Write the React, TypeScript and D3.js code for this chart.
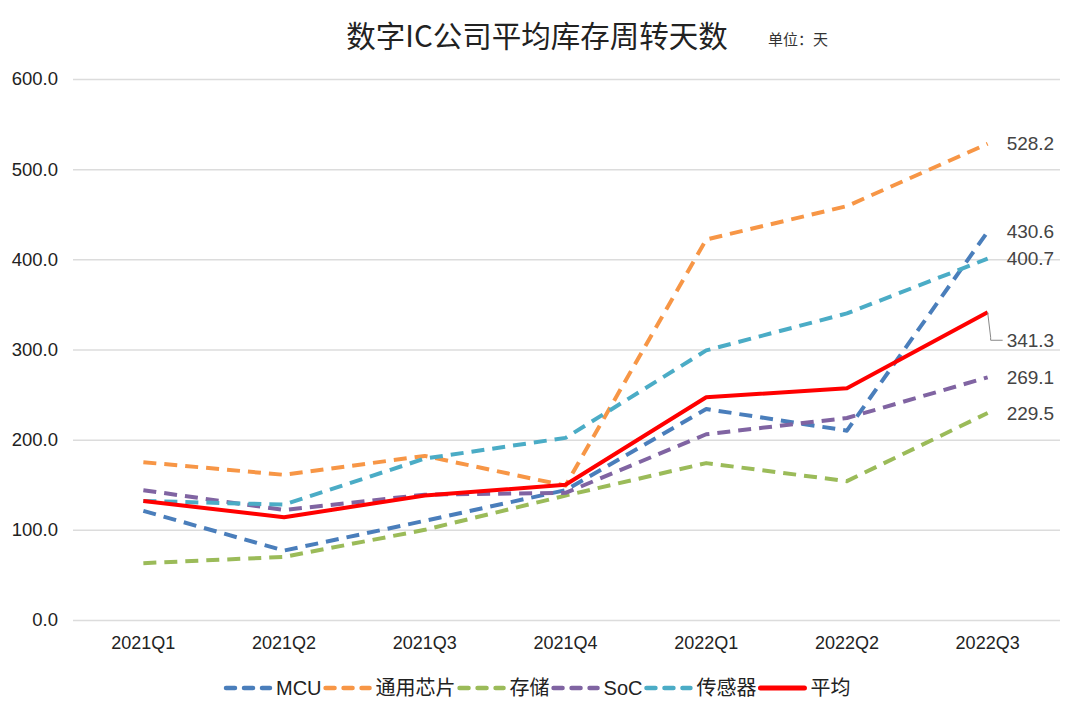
import * as d3 from "d3";
import { useEffect, useRef } from "react";

const categories = ["2021Q1", "2021Q2", "2021Q3", "2021Q4", "2022Q1", "2022Q2", "2022Q3"];
const seriesNames = ["MCU", "通用芯片", "存储", "SoC", "传感器", "平均"];
const mcu = [121, 77, 110, 144, 234, 210, 430.6];
const generalChip = [175, 161, 182, 149, 422, 459, 528.2];
const storage = [63, 70, 100, 138, 174, 154, 229.5];
const soc = [144, 122, 139, 141, 206, 224, 269.1];
const sensor = [132, 128, 179, 202, 299, 340, 400.7];
const average = [132, 114, 138, 150, 247, 257, 341.3];
const yTicks = [0, 100, 200, 300, 400, 500, 600];

const colors = ["#4a7ebb", "#f79646", "#9bbb59", "#8064a2", "#4bacc6", "#ff0000"];

export default function App() {
  const width = 1080;
  const height = 717;
  const marginTop = 79;
  const marginBottom = 97;
  const marginLeft = 73;
  const marginRight = 22;

  const svgRef = useRef<SVGSVGElement>(null);

  useEffect(() => {
    const svg = d3.select(svgRef.current);
    svg.selectAll("*").remove();

    const allSeries = [mcu, generalChip, storage, soc, sensor, average];

    const x = d3.scaleBand<string>(categories, [marginLeft, width - marginRight]);
    const y = d3.scaleLinear([0, 600], [height - marginBottom, marginTop]);
    const cx = (c: string) => (x(c) ?? 0) + x.bandwidth() / 2;

    // title
    svg.append("text")
      .attr("x", 537)
      .attr("y", 47)
      .attr("text-anchor", "middle")
      .attr("font-family", "'Noto Sans CJK SC', sans-serif")
      .attr("font-size", 29.5)
      .attr("fill", "#222")
      .text("数字IC公司平均库存周转天数");

    svg.append("text")
      .attr("x", 768)
      .attr("y", 45)
      .attr("font-family", "'Noto Sans CJK SC', sans-serif")
      .attr("font-size", 15)
      .attr("fill", "#333")
      .text("单位：天");

    // gridlines + y labels
    const yAxis = d3.axisLeft(y)
      .tickValues(yTicks)
      .tickSize(-(width - marginLeft - marginRight + 2))
      .tickPadding(15)
      .tickFormat(d => d3.format(".1f")(d as number));

    const gy = svg.append("g")
      .attr("transform", `translate(${marginLeft}, 0)`)
      .call(yAxis);
    gy.select(".domain").remove();
    gy.selectAll(".tick line").attr("stroke", "#dcdcdc").attr("stroke-width", 1.5);
    gy.selectAll(".tick text")
      .attr("font-family", "'Liberation Sans', Arial, sans-serif")
      .attr("font-size", 18.5)
      .attr("fill", "#222");

    // x labels
    const xAxis = d3.axisBottom(x).tickSize(0).tickPadding(16);
    const gx = svg.append("g")
      .attr("transform", `translate(0, ${height - marginBottom})`)
      .call(xAxis);
    gx.select(".domain").remove();
    gx.selectAll(".tick text")
      .attr("font-family", "'Liberation Sans', Arial, sans-serif")
      .attr("font-size", 18)
      .attr("fill", "#222");

    // lines
    allSeries.forEach((values, i) => {
      const line = d3.line<number>((_, j) => cx(categories[j]), d => y(d));
      const isAvg = i === allSeries.length - 1;
      svg.append("path")
        .attr("fill", "none")
        .attr("stroke", colors[i])
        .attr("stroke-width", 4)
        .attr("stroke-dasharray", isAvg ? null : "13,8")
        .attr("stroke-linejoin", "round")
        .attr("d", line(values));
    });

    // end labels
    const lastX = cx(categories[categories.length - 1]);
    allSeries.forEach((values, i) => {
      const v = values[values.length - 1];
      const isAvg = i === allSeries.length - 1;
      const ly = isAvg ? y(v) + 28 : y(v);
      if (isAvg) {
        svg.append("path")
          .attr("fill", "none")
          .attr("stroke", "#888")
          .attr("stroke-width", 1)
          .attr("d", `M${lastX},${y(v)} L${lastX + 3},${ly - 3} L${lastX + 3},${ly} L${lastX + 15},${ly}`);
      }
      svg.append("text")
        .attr("x", lastX + 19)
        .attr("y", ly)
        .attr("dy", "0.35em")
        .attr("font-family", "'Liberation Sans', Arial, sans-serif")
        .attr("font-size", 19)
        .attr("fill", "#444")
        .text(d3.format(".1f")(v));
    });

    // legend
    const legend = svg.append("g").attr("transform", `translate(0, 688)`);
    let lx = 226;
    seriesNames.forEach((name, i) => {
      const isAvg = i === seriesNames.length - 1;
      legend.append("line")
        .attr("x1", lx)
        .attr("x2", lx + 44)
        .attr("y1", 0)
        .attr("y2", 0)
        .attr("stroke", colors[i])
        .attr("stroke-width", isAvg ? 5 : 4.5)
        .attr("stroke-linecap", "round")
        .attr("stroke-dasharray", isAvg ? null : "9,9");
      const t = legend.append("text")
        .attr("x", lx + 50)
        .attr("y", 0)
        .attr("dy", "0.35em")
        .attr("font-family", "'Liberation Sans', 'Noto Sans CJK SC', sans-serif")
        .attr("font-size", 20)
        .attr("fill", "#222")
        .text(name);
      const w = (t.node() as SVGTextElement).getComputedTextLength();
      lx += 50 + w + 4;
    });
  }, []);

  return (
    <svg
      ref={svgRef}
      width={width}
      height={height}
      xmlns="http://www.w3.org/2000/svg"
      style={{ position: "absolute", left: 0, top: 0, background: "#fff" }}
    />
  );
}
